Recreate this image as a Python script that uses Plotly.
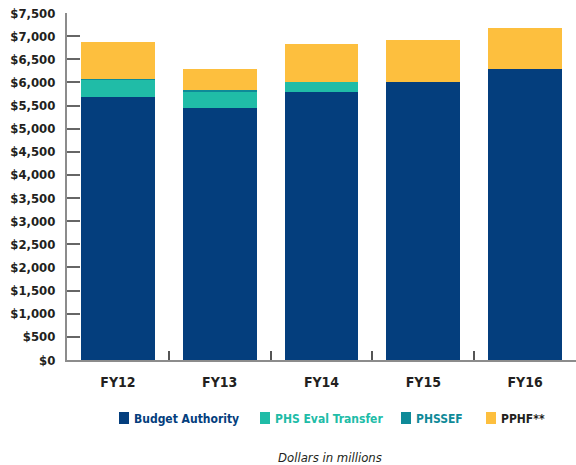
import plotly.graph_objects as go

categories = ["FY12", "FY13", "FY14", "FY15", "FY16"]
budget_authority = [5682, 5447, 5793, 6009, 6290]
phs_eval_transfer = [370, 367, 216, 0, 0]
phssef = [20, 20, 0, 0, 0]
pphf = [801, 460, 821, 907, 886]

series_names = ["Budget Authority", "PHS Eval Transfer", "PHSSEF", "PPHF**"]
series_colors = ["#043E7D", "#20BCA7", "#0E8A98", "#FDBF3E"]
legend_text_colors = ["#043E7D", "#20BCA7", "#0E8A98", "#231F20"]
series_values = [budget_authority, phs_eval_transfer, phssef, pphf]

y_ticks = list(range(0, 7501, 500))
y_ticktext = ["$" + format(v, ",") for v in y_ticks]

FONT = "DejaVu Sans Condensed, Liberation Sans Narrow, DejaVu Sans, sans-serif"

fig = go.Figure()
for name, color, vals in zip(series_names, series_colors, series_values):
    fig.add_trace(go.Bar(
        x=categories, y=vals, name=name,
        marker=dict(color=color, line=dict(width=0)),
        showlegend=False,
    ))

# plot area in pixels: x 67..576, y 13..360
W, H = 576, 465
L, R, T, B = 67, 0, 13, 105
pw = W - L - R
ph = H - T - B

def px_x(px):
    return (px - L) / pw

def px_y(py):
    return (H - B - py) / ph

# legend built from the series names / colours
legend_swatch_px = [119, 260, 401, 486]
shapes = []
annotations = []
for name, color, tc, sx in zip(series_names, series_colors, legend_text_colors, legend_swatch_px):
    shapes.append(dict(
        type="rect", xref="paper", yref="paper",
        x0=px_x(sx), x1=px_x(sx + 10), y0=px_y(424), y1=px_y(412),
        fillcolor=color, line=dict(width=0),
    ))
    annotations.append(dict(
        text=name, xref="paper", yref="paper",
        x=px_x(sx + 13), y=px_y(418.5), xanchor="left", yanchor="middle",
        showarrow=False,
        font=dict(family=FONT, size=12, color=tc, weight="bold"),
    ))

annotations.append(dict(
    text="Dollars in millions", xref="paper", yref="paper",
    x=px_x(330), y=px_y(457), xanchor="center", yanchor="middle",
    showarrow=False,
    font=dict(family=FONT, size=13, color="#231F20", style="italic"),
))

fig.update_layout(
    template="none",
    barmode="stack",
    bargap=0.275,
    width=W, height=H,
    margin=dict(l=L, r=R, t=T, b=B, pad=0, autoexpand=False),
    plot_bgcolor="white", paper_bgcolor="white",
    font=dict(family=FONT, color="#231F20"),
    showlegend=False,
    xaxis=dict(
        range=[-0.5, 4.5], automargin=False,
        showline=True, linecolor="#8C8C8C", linewidth=2,
        ticks="inside", tickson="boundaries", ticklen=9, tickwidth=1.5, tickcolor="#555555",
        tickfont=dict(family=FONT, size=14, color="#231F20", weight="bold"),
        showgrid=False, zeroline=False,
        ticklabelstandoff=8,
    ),
    yaxis=dict(
        range=[0, 7500], automargin=False,
        tickvals=y_ticks, ticktext=y_ticktext,
        showline=True, linecolor="#8C8C8C", linewidth=2,
        ticks="inside", ticklen=13, tickwidth=1.5, tickcolor="#666666",
        tickfont=dict(family=FONT, size=13, color="#231F20", weight="bold"),
        showgrid=False, zeroline=False,
        ticklabelstandoff=7,
    ),
    shapes=shapes,
    annotations=annotations,
)

fig.write_html(
    "out.html",
    config={"displayModeBar": False},
    post_script="document.body.style.margin='0';document.body.style.padding='0';",
)
